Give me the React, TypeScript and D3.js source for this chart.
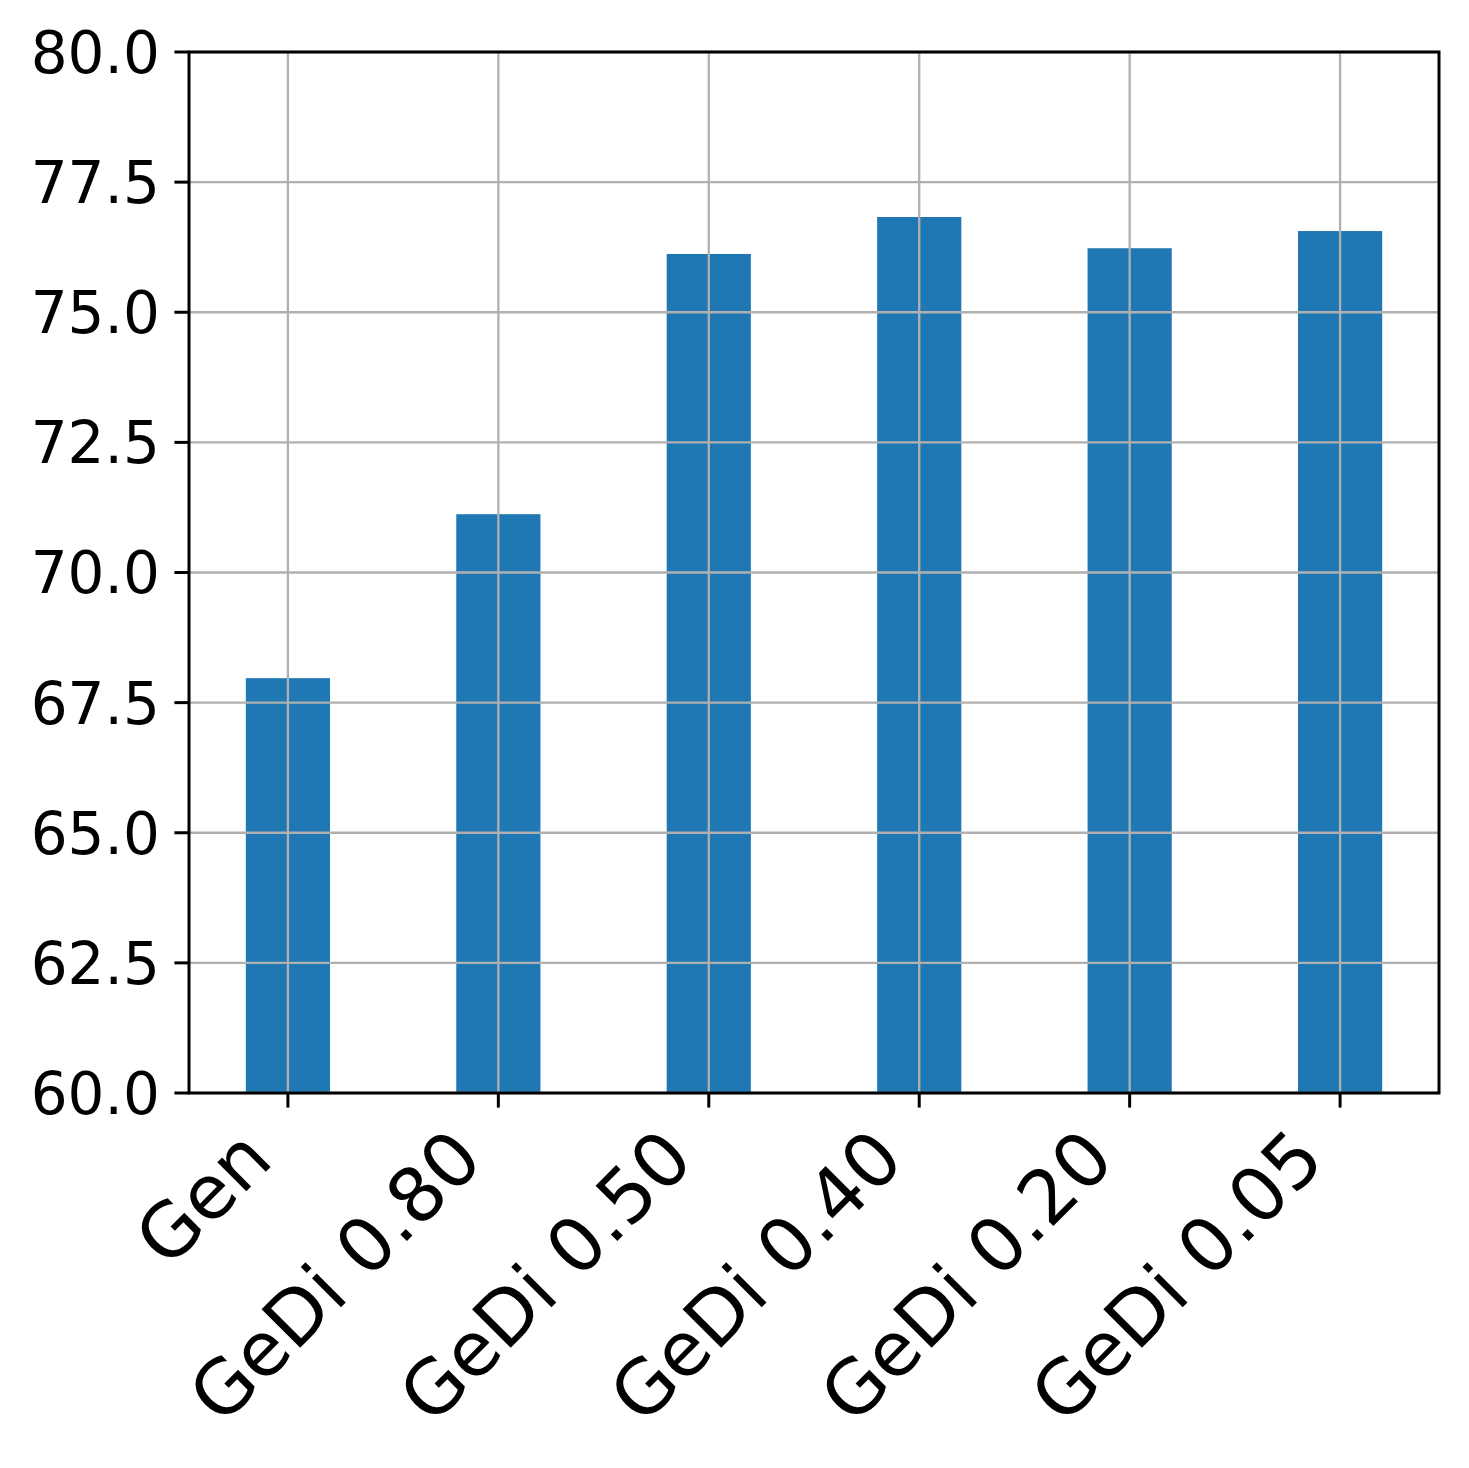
import React from "react";
import * as d3 from "d3";

const categories = ["Gen", "GeDi 0.80", "GeDi 0.50", "GeDi 0.40", "GeDi 0.20", "GeDi 0.05"];
const values = [67.97, 71.12, 76.12, 76.83, 76.23, 76.56];
const yTicks = [60, 62.5, 65, 67.5, 70, 72.5, 75, 77.5, 80];

const W = 1469;
const H = 1468;
const left = 189;
const right = 1439;
const top = 52;
const bottom = 1093;
const FS = 58;
const XFS = 75;
const TICK = 14.6;
const PAD = 14.6;

export default function App() {
  const n = categories.length;
  const barW = 0.4;
  const x = d3.scaleLinear().domain([-0.2 - 0.27, n - 1 + 0.2 + 0.27]).range([left, right]);
  const y = d3.scaleLinear().domain([60, 80]).range([bottom, top]);
  const asc = 0.76 * XFS;
  const desc = 0.24 * XFS;
  const k = Math.SQRT1_2;
  return (
    <svg width={W} height={H} style={{ position: "absolute", left: 0, top: 0, background: "#fff" }}
      fontFamily="DejaVu Sans" >
      <rect x={0} y={0} width={W} height={H} fill="#fff" />
      {values.map((v, i) => (
        <rect key={i} x={x(i - barW / 2)} y={y(v)} width={x(i + barW / 2) - x(i - barW / 2)}
          height={y(60) - y(v)} fill="#1f77b4" />
      ))}
      {categories.map((c, i) => (
        <line key={"gx" + i} x1={x(i)} x2={x(i)} y1={top} y2={bottom} stroke="#b0b0b0" strokeWidth={2.3} />
      ))}
      {yTicks.map((t, i) => (
        <line key={"gy" + i} x1={left} x2={right} y1={y(t)} y2={y(t)} stroke="#b0b0b0" strokeWidth={2.3} />
      ))}
      <rect x={left} y={top} width={right - left} height={bottom - top} fill="none" stroke="#000" strokeWidth={3} />
      {yTicks.map((t, i) => (
        <g key={"ty" + i}>
          <line x1={left - TICK} x2={left} y1={y(t)} y2={y(t)} stroke="#000" strokeWidth={3} />
          <text x={left - TICK - PAD} y={y(t)} dy="0.36em" textAnchor="end" fontSize={FS} fill="#000">
            {t.toFixed(1)}
          </text>
        </g>
      ))}
      {categories.map((c, i) => {
        const ax = x(i) - k * desc;
        const ay = bottom + TICK + PAD + k * asc;
        return (
          <g key={"tx" + i}>
            <line x1={x(i)} x2={x(i)} y1={bottom} y2={bottom + TICK} stroke="#000" strokeWidth={3} />
            <text transform={`translate(${ax},${ay}) rotate(-45)`} textAnchor="end" fontSize={XFS} fill="#000">
              {c}
            </text>
          </g>
        );
      })}
    </svg>
  );
}
